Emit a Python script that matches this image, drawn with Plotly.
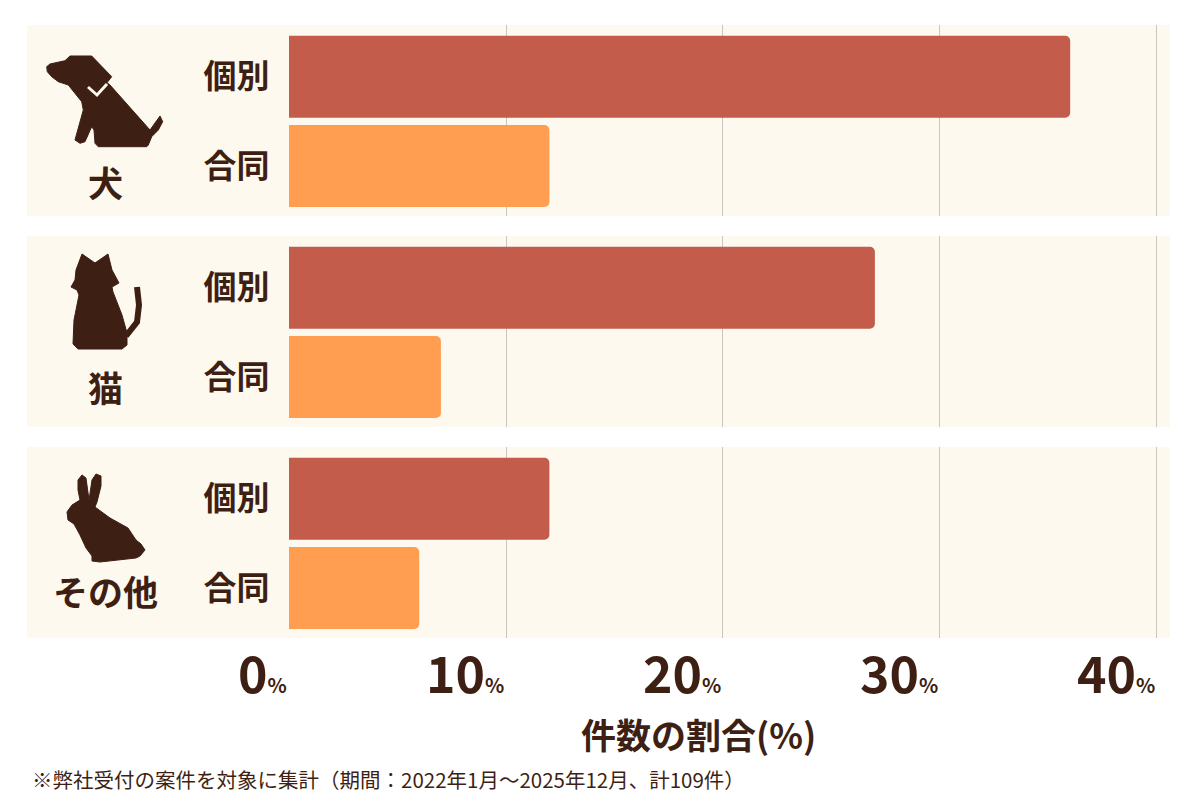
import plotly.graph_objects as go
from plotly.subplots import make_subplots

# data (percent of 109 cases)
groups = ["犬", "猫", "その他"]
kinds = ["個別", "合同"]
kobetsu = [36, 27, 12]
goudou = [12, 7, 6]
tick_vals = [0, 10, 20, 30, 40]

BROWN = "#3E1F13"
RED = "#C45C4C"
ORANGE = "#FF9E51"
BAND = "#FDF9EF"
FONT = "Noto Sans CJK JP"

W, H = 1200, 800
OFF = 8  # page body margin of the browser
# plot area on the page: x 289..1170, y 25..638
ML, MR, MT, MB = 289 - OFF, 30 + OFF, 25 - OFF, 162 + OFF
PW = W - ML - MR
PH = H - MT - MB


def px(x, y):
    # page pixels -> paper coords
    return (x - 289) / PW, (638 - y) / PH


def path(points, close=True):
    s = ""
    for i, (x, y) in enumerate(points):
        u, v = px(x, y)
        s += ("M" if i == 0 else "L") + f"{u:.5f},{v:.5f} "
    return s + ("Z" if close else "")


fig = make_subplots(rows=3, cols=1, shared_xaxes=True, vertical_spacing=20 / PH)

for i, g in enumerate(groups):
    fig.add_trace(go.Bar(
        x=[kobetsu[i], goudou[i]], y=kinds, orientation="h",
        marker=dict(color=[RED, ORANGE], line=dict(width=0)),
        width=0.92, name=g, showlegend=False, hoverinfo="x+y",
    ), row=i + 1, col=1)
    fig.update_yaxes(range=[1.56, -0.58], row=i + 1, col=1)

fig.update_layout(barcornerradius=5)

fig.update_xaxes(range=[0, 40.6], tickvals=tick_vals, showticklabels=False,
                 showgrid=True, gridcolor="#C9C6C0", gridwidth=1,
                 zeroline=False, showline=False, fixedrange=True)
fig.update_yaxes(showgrid=False, zeroline=False, showline=False,
                 ticks="outside", ticklen=12, tickcolor="rgba(0,0,0,0)",
                 tickfont=dict(family=FONT, size=33, color=BROWN, weight="bold"))

shapes = []
# cream bands behind each group
for i in range(3):
    yd = "y domain" if i == 0 else f"y{i + 1} domain"
    shapes.append(dict(type="rect", xref="paper", yref=yd,
                       x0=(27 - 289) / PW, x1=1, y0=0, y1=1,
                       fillcolor=BAND, line=dict(width=0), layer="below"))

dog = [(70, 56), (91.7, 56), (111.7, 76.7), (107, 82.7), (110, 85),
       (150, 130), (160, 116), (162.7, 121.7), (158.3, 130), (151.7, 136.7),
       (148.3, 145), (146.7, 146.7), (98.3, 146.7), (95, 143.3), (94, 130),
       (91.7, 126.7), (85, 141.7), (80, 143.3), (75, 140), (83.3, 110),
       (81.7, 101.7), (68.3, 85), (58.3, 81.7), (51.7, 76.7), (47.3, 71.7),
       (46.7, 66.7), (50, 64), (65, 60.7)]
cat = [(82, 254), (95, 263), (108, 254), (112, 270), (119, 283), (112, 287),
       (113, 292), (122, 315), (127, 333), (127, 345), (122, 349),
       (78, 349), (73, 344), (74, 320), (79, 295), (77, 290), (71, 287),
       (75, 280), (76, 270)]
rabbit = [(78, 480), (82, 475), (86, 478), (89, 500), (92, 480), (96, 474),
          (101, 476), (101, 486), (97, 502), (95, 507), (110, 518),
          (128, 528), (136, 540), (141, 544), (145, 550), (140, 556),
          (136, 558), (100, 562), (92, 561), (92, 556), (86, 548), (80, 535),
          (74, 524), (68, 520), (67, 512), (72, 505), (80, 500), (78, 490)]
for pts in (dog, cat, rabbit):
    shapes.append(dict(type="path", xref="paper", yref="paper", path=path(pts),
                       fillcolor=BROWN, line=dict(color=BROWN, width=1)))

# collar and tail
collar = path([(88, 87), (97, 95), (107, 84)], close=False)
tail = path([(126, 336), (137, 322), (139, 305), (137, 287)], close=False)
shapes.append(dict(type="path", xref="paper", yref="paper", path=collar,
                   fillcolor="rgba(0,0,0,0)", line=dict(color=BAND, width=3)))
shapes.append(dict(type="path", xref="paper", yref="paper", path=tail,
                   fillcolor="rgba(0,0,0,0)", line=dict(color=BROWN, width=6)))

annotations = []
# group names
for g, yy in zip(groups, [181, 386, 590]):
    u, v = px(105, yy)
    annotations.append(dict(text=g, x=u, y=v, xref="paper", yref="paper",
                            showarrow=False, xanchor="center", yanchor="middle",
                            font=dict(family=FONT, size=35, color=BROWN, weight="bold")))
# tick labels, right aligned on the grid line
for t in tick_vals:
    annotations.append(dict(
        text=f"{t}<span style='font-size:20px'>%</span>",
        x=t, xref="x3", y=px(0, 671)[1], yref="paper", showarrow=False,
        xanchor="right", yanchor="middle",
        font=dict(family=FONT, size=50, color=BROWN, weight="bold")))
u, v = px(698, 733)
annotations.append(dict(text="件数の割合(%)", x=u, y=v, xref="paper", yref="paper",
                        showarrow=False, xanchor="center", yanchor="middle",
                        font=dict(family=FONT, size=35, color=BROWN, weight="bold")))
u, v = px(30, 779)
annotations.append(dict(text="※弊社受付の案件を対象に集計（期間：2022年1月～2025年12月、計109件）",
                        x=u, y=v, xref="paper", yref="paper", showarrow=False,
                        xanchor="left", yanchor="middle",
                        font=dict(family=FONT, size=20.5, color=BROWN)))

fig.update_layout(
    width=W, height=H,
    margin=dict(l=ML, r=MR, t=MT, b=MB),
    paper_bgcolor="white", plot_bgcolor="rgba(0,0,0,0)",
    shapes=shapes, annotations=annotations,
    bargap=0.08, showlegend=False,
)

fig.write_html("out.html")
